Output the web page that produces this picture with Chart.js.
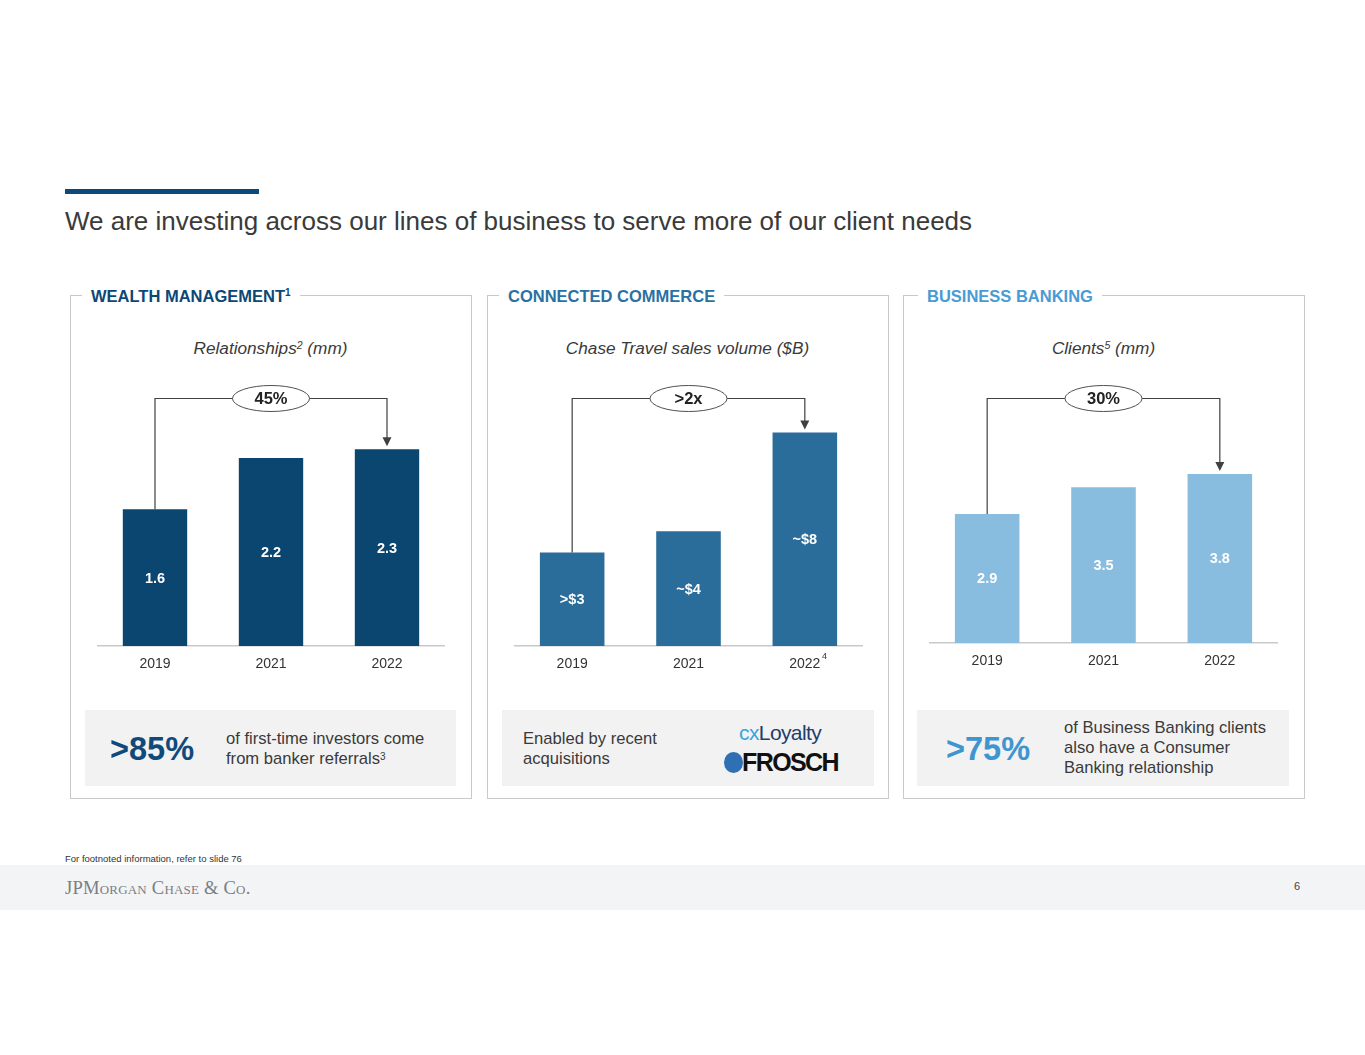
<!DOCTYPE html>
<html>
<head>
<meta charset="utf-8">
<script src="https://cdn.jsdelivr.net/npm/chart.js@4.4.0/dist/chart.umd.min.js"></script>
<style>
  html, body { margin:0; padding:0; background:#fff; }
  body { width:1365px; height:1055px; position:relative; overflow:hidden; font-family:'Liberation Sans', Arial, sans-serif; color:#333; }
  .abs { position:absolute; }
  .topbar { left:65px; top:189px; width:194px; height:5px; background:#0b4a7a; }
  .title { left:65px; top:206px; font-size:26px; color:#3a3a3a; white-space:nowrap; line-height:30px; }
  .panel { border:1px solid #c9c9c9; box-sizing:border-box; }
  .ptitle { font-weight:bold; font-size:16.5px; background:#fff; padding:0 9px; line-height:20px; white-space:nowrap; }
  .ptitle sup { font-size:10px; vertical-align:top; position:relative; top:-3px; }
  .sub { font-style:italic; font-size:17.2px; color:#3a3a3a; text-align:center; width:401px; line-height:20px; }
  .sub sup { font-size:10.5px; vertical-align:top; position:relative; top:-3px; }
  .box { background:#f2f2f2; }
  .big { font-weight:bold; font-size:32.5px; line-height:36px; }
  .txt { font-size:16.6px; line-height:20px; color:#3a3a3a; white-space:nowrap; }
  .txt sup { font-size:10px; vertical-align:top; position:relative; top:-2px; }
  canvas { position:absolute; }
</style>
</head>
<body>
<div class="abs topbar"></div>
<div class="abs title">We are investing across our lines of business to serve more of our client needs</div>

<!-- panels -->
<div class="abs panel" style="left:70px;top:295px;width:402px;height:504px;"></div>
<div class="abs panel" style="left:487px;top:295px;width:402px;height:504px;"></div>
<div class="abs panel" style="left:903px;top:295px;width:402px;height:504px;"></div>

<div class="abs ptitle" style="left:82px;top:286px;color:#0d4776;">WEALTH MANAGEMENT<sup>1</sup></div>
<div class="abs ptitle" style="left:499px;top:286px;color:#2a71a3;">CONNECTED COMMERCE</div>
<div class="abs ptitle" style="left:918px;top:286px;color:#4a9bd3;">BUSINESS BANKING</div>

<div class="abs sub" style="left:70px;top:338px;">Relationships<sup>2</sup> (mm)</div>
<div class="abs sub" style="left:487px;top:338px;">Chase Travel sales volume ($B)</div>
<div class="abs sub" style="left:903px;top:338px;">Clients<sup>5</sup> (mm)</div>

<canvas id="c1" width="348" height="302" style="left:97px;top:370px;"></canvas>
<canvas id="c2" width="349" height="302" style="left:514px;top:370px;"></canvas>
<canvas id="c3" width="349" height="299" style="left:929px;top:370px;"></canvas>
<div class="abs" style="left:822px;top:651px;font-size:9px;color:#333;">4</div>

<!-- bottom boxes -->
<div class="abs box" style="left:85px;top:710px;width:371px;height:76px;"></div>
<div class="abs box" style="left:502px;top:710px;width:372px;height:76px;"></div>
<div class="abs box" style="left:917px;top:710px;width:372px;height:76px;"></div>

<div class="abs big" style="left:110px;top:731px;color:#104a7c;">&gt;85%</div>
<div class="abs txt" style="left:226px;top:729px;">of first-time investors come<br>from banker referrals<sup>3</sup></div>

<div class="abs txt" style="left:523px;top:729px;">Enabled by recent<br>acquisitions</div>
<div class="abs" style="left:739px;top:721px;font-size:21px;line-height:24px;letter-spacing:-0.6px;white-space:nowrap;"><span style="color:#36a6de;">cx</span><span style="color:#1f3d6d;">Loyalty</span></div>
<div class="abs" style="left:724px;top:752px;width:19px;height:21px;border-radius:50%;background:#2f6fb3;"></div>
<div class="abs" style="left:742px;top:749px;font-size:25px;line-height:27px;font-weight:900;color:#111;letter-spacing:-1.6px;white-space:nowrap;">FROSCH</div>

<div class="abs big" style="left:946px;top:731px;color:#3f95d0;">&gt;75%</div>
<div class="abs txt" style="left:1064px;top:718px;">of Business Banking clients<br>also have a Consumer<br>Banking relationship</div>

<div class="abs" style="left:65px;top:853px;font-size:9.5px;color:#333;">For footnoted information, refer to slide 76</div>
<div class="abs" style="left:0;top:865px;width:1365px;height:45px;background:#f3f4f6;"></div>
<div class="abs" style="left:65px;top:877px;font-family:'Liberation Serif','Times New Roman',serif;font-size:18.6px;font-variant:small-caps;color:#7b7e83;letter-spacing:0.2px;white-space:nowrap;">JPMorgan Chase &amp; Co.</div>
<div class="abs" style="left:1294px;top:880px;font-size:11px;color:#444;">6</div>

<script>
// ---- data ----
const categories = ['2019', '2021', '2022'];
const wealthValues = [1.6, 2.2, 2.3];
const wealthLabels = ['1.6', '2.2', '2.3'];
const commerceValues = [3.5, 4.3, 8.0];
const commerceLabels = ['>$3', '~$4', '~$8'];
const bankingValues = [2.9, 3.5, 3.8];
const bankingLabels = ['2.9', '3.5', '3.8'];
const growthLabels = ['45%', '>2x', '30%'];

const FONT = "'Liberation Sans', Arial, sans-serif";

const barLabelPlugin = {
  id: 'barLabels',
  afterDatasetsDraw(chart) {
    const ctx = chart.ctx;
    const meta = chart.getDatasetMeta(0);
    const labels = chart.options.plugins.barLabels.labels;
    ctx.save();
    ctx.fillStyle = '#ffffff';
    ctx.font = 'bold 14.5px ' + FONT;
    ctx.textAlign = 'center';
    ctx.textBaseline = 'middle';
    meta.data.forEach((bar, i) => {
      ctx.fillText(labels[i], bar.x, (bar.y + bar.base) / 2 + 1);
    });
    ctx.restore();
  }
};

const bracketPlugin = {
  id: 'bracket',
  afterDatasetsDraw(chart) {
    const ctx = chart.ctx;
    const meta = chart.getDatasetMeta(0);
    const b0 = meta.data[0], b1 = meta.data[1], b2 = meta.data[2];
    const yb = chart.chartArea.top + 28.5;
    const text = chart.options.plugins.bracket.text;
    ctx.save();
    ctx.strokeStyle = '#404040';
    ctx.lineWidth = 1.2;
    ctx.beginPath();
    ctx.moveTo(b0.x, b0.y);
    ctx.lineTo(b0.x, yb);
    ctx.lineTo(b2.x, yb);
    ctx.lineTo(b2.x, b2.y - 10);
    ctx.stroke();
    ctx.fillStyle = '#404040';
    ctx.beginPath();
    ctx.moveTo(b2.x - 4.5, b2.y - 12);
    ctx.lineTo(b2.x + 4.5, b2.y - 12);
    ctx.lineTo(b2.x, b2.y - 3);
    ctx.closePath();
    ctx.fill();
    ctx.beginPath();
    ctx.ellipse(b1.x, yb, 38.5, 13, 0, 0, Math.PI * 2);
    ctx.fillStyle = '#ffffff';
    ctx.fill();
    ctx.lineWidth = 1;
    ctx.strokeStyle = '#505050';
    ctx.stroke();
    ctx.fillStyle = '#222';
    ctx.font = 'bold 16.5px ' + FONT;
    ctx.textAlign = 'center';
    ctx.textBaseline = 'middle';
    ctx.fillText(text, b1.x, yb + 1);
    ctx.restore();
  }
};

function makeChart(id, values, labels, color, ymax, growth) {
  return new Chart(document.getElementById(id), {
    type: 'bar',
    data: {
      labels: categories,
      datasets: [{
        data: values,
        backgroundColor: color,
        borderWidth: 0,
        categoryPercentage: 1.0,
        barPercentage: 0.555
      }]
    },
    options: {
      responsive: false,
      maintainAspectRatio: false,
      animation: false,
      devicePixelRatio: 1,
      layout: { padding: 0 },
      plugins: {
        legend: { display: false },
        tooltip: { enabled: false },
        barLabels: { labels: labels },
        bracket: { text: growth }
      },
      scales: {
        x: {
          grid: { display: false, drawTicks: false },
          border: { display: true, color: '#c9c9c9', width: 1.5 },
          ticks: { color: '#333', font: { size: 14, family: FONT }, padding: 10 },
          afterFit(s) { s.height = 26; }
        },
        y: { display: false, min: 0, max: ymax }
      }
    },
    plugins: [barLabelPlugin, bracketPlugin]
  });
}

makeChart('c1', wealthValues, wealthLabels, '#0b4671', 3.228, growthLabels[0]);
makeChart('c2', commerceValues, commerceLabels, '#2a6d9a', 10.34, growthLabels[1]);
makeChart('c3', bankingValues, bankingLabels, '#88bde0', 6.135, growthLabels[2]);
</script>
</body>
</html>
